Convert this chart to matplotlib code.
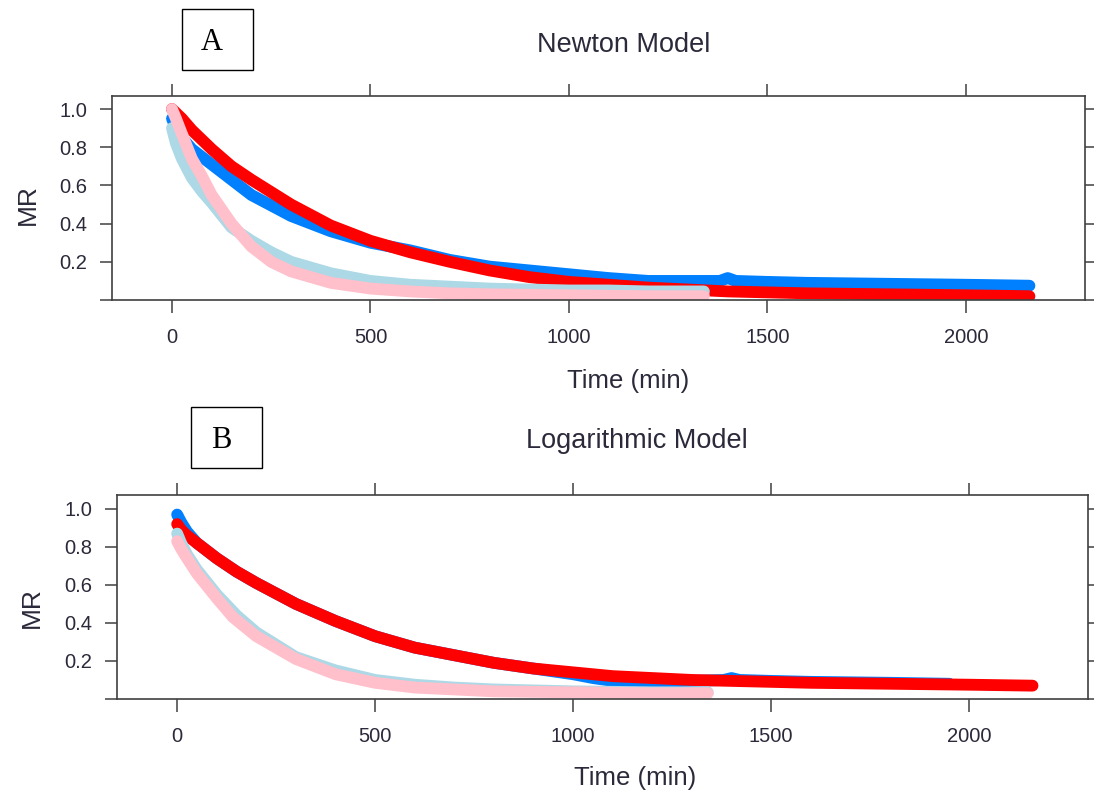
import matplotlib.pyplot as plt
from matplotlib.patches import Rectangle

plt.rcParams['font.family'] = ['Liberation Sans', 'DejaVu Sans']

# ---- Panel A : Newton model ----
a_blue_t = [0, 10, 25, 50, 100, 150, 200, 300, 400, 500, 600, 700, 800, 900, 1000,
            1100, 1200, 1300, 1380, 1400, 1420, 1500, 1600, 1800, 2000, 2160]
a_blue_mr = [0.95, 0.90, 0.85, 0.79, 0.71, 0.63, 0.55, 0.44, 0.36, 0.30, 0.26, 0.21, 0.175, 0.155, 0.135,
             0.115, 0.10, 0.10, 0.10, 0.115, 0.10, 0.095, 0.09, 0.085, 0.08, 0.075]
a_red_t = [0, 25, 50, 100, 150, 200, 300, 400, 500, 600, 700, 800, 900, 1000,
           1100, 1200, 1300, 1400, 1500, 1600, 1800, 2000, 2160]
a_red_mr = [1.0, 0.95, 0.89, 0.79, 0.70, 0.63, 0.50, 0.39, 0.31, 0.25, 0.20, 0.155, 0.12, 0.095,
            0.08, 0.065, 0.055, 0.045, 0.04, 0.035, 0.03, 0.025, 0.02]
a_lblue_t = [0, 10, 25, 50, 75, 100, 150, 200, 250, 300, 400, 500, 600, 700, 800, 900, 1000, 1100, 1200, 1340]
a_lblue_mr = [0.90, 0.82, 0.74, 0.64, 0.57, 0.51, 0.38, 0.31, 0.25, 0.20, 0.14, 0.10, 0.08, 0.07, 0.06,
              0.055, 0.05, 0.05, 0.045, 0.045]
a_pink_t = [0, 10, 25, 50, 75, 100, 150, 200, 250, 300, 400, 500, 600, 700, 800, 1000, 1200, 1340]
a_pink_mr = [1.0, 0.95, 0.87, 0.74, 0.65, 0.55, 0.40, 0.28, 0.20, 0.15, 0.09, 0.06, 0.045, 0.035,
             0.03, 0.025, 0.02, 0.02]

# ---- Panel B : Logarithmic model ----
b_blue_t = [0, 10, 25, 50, 100, 150, 200, 300, 400, 500, 600, 700, 800, 900, 1000,
            1050, 1100, 1200, 1300, 1380, 1400, 1420, 1500, 1600, 1800, 1950]
b_blue_mr = [0.97, 0.93, 0.88, 0.82, 0.74, 0.67, 0.61, 0.50, 0.41, 0.33, 0.27, 0.23, 0.19, 0.16, 0.13,
             0.11, 0.095, 0.09, 0.095, 0.10, 0.11, 0.10, 0.095, 0.09, 0.085, 0.08]
b_red_t = [0, 10, 25, 50, 100, 150, 200, 300, 400, 500, 600, 700, 800, 900, 1000,
           1100, 1200, 1300, 1400, 1500, 1600, 1800, 2000, 2160]
b_red_mr = [0.92, 0.89, 0.86, 0.82, 0.74, 0.67, 0.61, 0.50, 0.41, 0.33, 0.27, 0.23, 0.19, 0.16, 0.14,
            0.12, 0.11, 0.10, 0.095, 0.09, 0.085, 0.08, 0.075, 0.07]
b_lblue_t = [0, 10, 25, 50, 100, 150, 200, 300, 400, 500, 600, 700, 800, 1000, 1200, 1340]
b_lblue_mr = [0.87, 0.82, 0.76, 0.68, 0.55, 0.44, 0.35, 0.22, 0.15, 0.10, 0.075, 0.06, 0.05, 0.04, 0.035, 0.035]
b_pink_t = [0, 10, 25, 50, 100, 141, 200, 300, 400, 500, 600, 700, 800, 1000, 1200, 1340]
b_pink_mr = [0.83, 0.79, 0.74, 0.66, 0.53, 0.43, 0.33, 0.21, 0.13, 0.085, 0.06, 0.05, 0.04, 0.035, 0.03, 0.03]

x_ticks = [0, 500, 1000, 1500, 2000]
y_ticks = [0.0, 0.2, 0.4, 0.6, 0.8, 1.0]
y_tick_labels = ['', '0.2', '0.4', '0.6', '0.8', '1.0']

BLUE = '#0080FF'
RED = '#FF0000'
LBLUE = '#ADD8E6'
PINK = '#FFC0CB'
EDGE = '#404040'
TXT = '#2a2a3a'

fig = plt.figure(figsize=(10.94, 7.99), dpi=100)


def panel(rect, xlim, ylim, series):
    ax = fig.add_axes(rect)
    for t, mr, col in series:
        ax.plot(t, mr, color=col, linewidth=8.5, solid_capstyle='round', solid_joinstyle='round')
    ax.set_xlim(*xlim)
    ax.set_ylim(*ylim)
    ax.set_xticks(x_ticks)
    ax.set_xticklabels([str(v) for v in x_ticks])
    ax.set_yticks(y_ticks)
    ax.set_yticklabels(y_tick_labels)
    ax.tick_params(direction='out', length=9, width=1.1, color=EDGE, labelsize=14.5,
                   labelcolor=TXT, top=True, right=True, labeltop=False, labelright=False)
    ax.tick_params(axis='x', pad=11)
    ax.tick_params(axis='y', pad=9)
    for s in ax.spines.values():
        s.set_color(EDGE)
        s.set_linewidth(1.2)
    return ax


panel([0.1024, 0.6245, 0.8894, 0.2553], (-151, 2300), (0.0, 1.068),
      [(a_blue_t, a_blue_mr, BLUE), (a_red_t, a_red_mr, RED),
       (a_lblue_t, a_lblue_mr, LBLUE), (a_pink_t, a_pink_mr, PINK)])
panel([0.1069, 0.1252, 0.8876, 0.2553], (-152, 2300), (0.005, 1.073),
      [(b_blue_t, b_blue_mr, BLUE), (b_red_t, b_red_mr, RED),
       (b_lblue_t, b_lblue_mr, LBLUE), (b_pink_t, b_pink_mr, PINK)])

W, H = 1094.0, 799.0


def px(x, y):
    return x / W, 1 - y / H


fig.text(*px(624, 45), 'Newton Model', ha='center', va='center', fontsize=19.5, color=TXT)
fig.text(*px(637, 441), 'Logarithmic Model', ha='center', va='center', fontsize=19.5, color=TXT)
fig.text(*px(628, 381), 'Time (min)', ha='center', va='center', fontsize=18.5, color=TXT)
fig.text(*px(635, 778), 'Time (min)', ha='center', va='center', fontsize=18.5, color=TXT)
fig.text(*px(28, 205), 'MR', ha='center', va='center', rotation=90, fontsize=19, color=TXT)
fig.text(*px(32, 608), 'MR', ha='center', va='center', rotation=90, fontsize=19, color=TXT)

# boxed panel letters
for label, (x0, y0, x1, y1) in [('A', (182, 9, 253, 70)), ('B', (191, 407, 262, 468))]:
    fx0, fy1 = px(x0, y0)
    fx1, fy0 = px(x1, y1)
    fig.add_artist(Rectangle((fx0, fy0), fx1 - fx0, fy1 - fy0, transform=fig.transFigure,
                             fill=False, edgecolor='black', linewidth=1.0))
    fig.text((fx0 + fx1) / 2 - 0.005, (fy0 + fy1) / 2 - 0.004, label, ha='center', va='center',
             fontsize=22, family='Liberation Serif')

fig.savefig('out.png', dpi=100)
